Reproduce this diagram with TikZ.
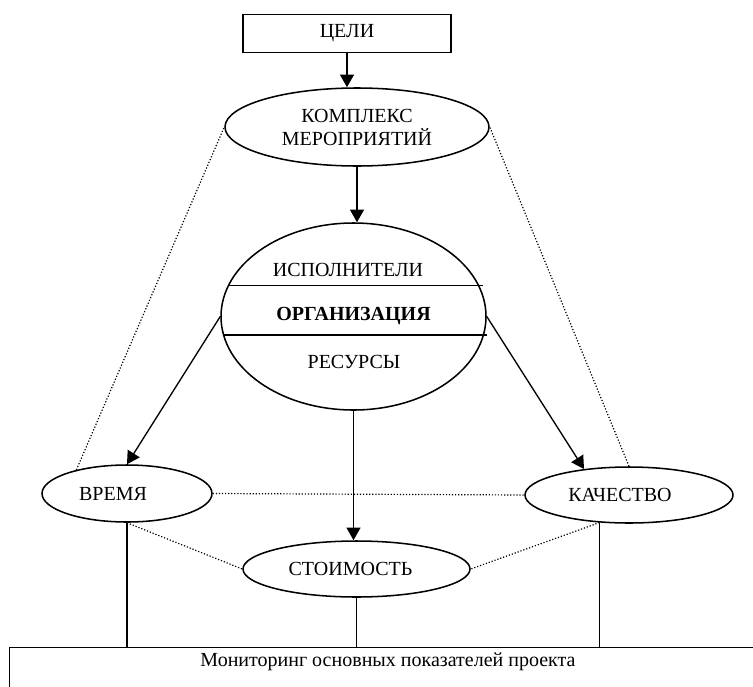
\documentclass[tikz,border=0pt]{standalone}
\usepackage{fontspec}
\setmainfont{Liberation Serif}
\usetikzlibrary{arrows.meta, positioning, calc, shapes.geometric}

\begin{document}
\begin{tikzpicture}[x=0.75pt, y=-0.75pt,
    font=\fontsize{15}{17.25}\selectfont,
    box/.style={draw, line width=0.9pt, rectangle, inner sep=0pt},
    oval/.style={draw, line width=1.15pt, ellipse, inner sep=0pt},
    link/.style={line width=1pt, -{Triangle[length=9.5pt, width=10.5pt]}},
    dots/.style={line width=0.9pt, dash pattern=on 0.9pt off 1.4pt},
    tie/.style={line width=1pt}]
\useasboundingbox (0,0) rectangle (753,686);

% goals and measures
\node[box, minimum width=156pt, minimum height=28pt] (goals) at (347,33.5) {ЦЕЛИ};
\node[oval, minimum width=198pt, minimum height=58.5pt, align=center] (complex) at (357,127) {КОМПЛЕКС\\МЕРОПРИЯТИЙ};

% organization
\node[oval, minimum width=198.75pt, minimum height=140.25pt, font=\fontsize{15}{17}\selectfont\bfseries] (org) at (353.5,316.5) {ОРГАНИЗАЦИЯ};
\node (performers) at (348,270) {ИСПОЛНИТЕЛИ};
\node (resources) at (354,362) {РЕСУРСЫ};
\draw[tie] (org.166) -- ($(org.14)+(4,0)$);
\draw[tie] (org.188) -- ($(org.-8)+(3,0)$);

% time, quality, cost
\node[oval, minimum width=127.5pt, minimum height=42.75pt, label={[xshift=-10.5pt]center:ВРЕМЯ}] (time) at (127,493.5) {};
\node[oval, minimum width=156pt, minimum height=42pt, label={[xshift=-6.75pt]center:КАЧЕСТВО}] (quality) at (629,495) {};
\node[oval, minimum width=170.25pt, minimum height=42pt, label={[xshift=-4.5pt]center:СТОИМОСТЬ}] (cost) at (356.5,569) {};

% monitoring
\node[box, anchor=north west, minimum width=568.5pt, minimum height=40pt] (monitor) at (9,647) {};
\node (montext) at (388,662) {Мониторинг основных показателей проекта};

% arrows
\draw[link] (goals.south) -- (goals.south |- complex.north);
\draw[link] (complex.south) -- (complex.south |- org.north);
\draw[link] (org.west) -- (time.north);
\draw[link] (org.east) -- (quality.150);
\draw[link] (org.south) -- (org.south |- cost.north);

% dotted ties
\draw[dots] (time.155) -- (complex.west);
\draw[dots] (quality.north) -- (complex.east);
\draw[dots] (time.east) -- (quality.west);
\draw[dots] (time.south) -- (cost.west);
\draw[dots] (quality.223) -- (cost.east);

% down to monitoring
\foreach \n/\a in {time/south, cost/south, quality/223}
    \draw[tie] (\n.\a) -- (\n.\a |- monitor.north);
\end{tikzpicture}
\end{document}
